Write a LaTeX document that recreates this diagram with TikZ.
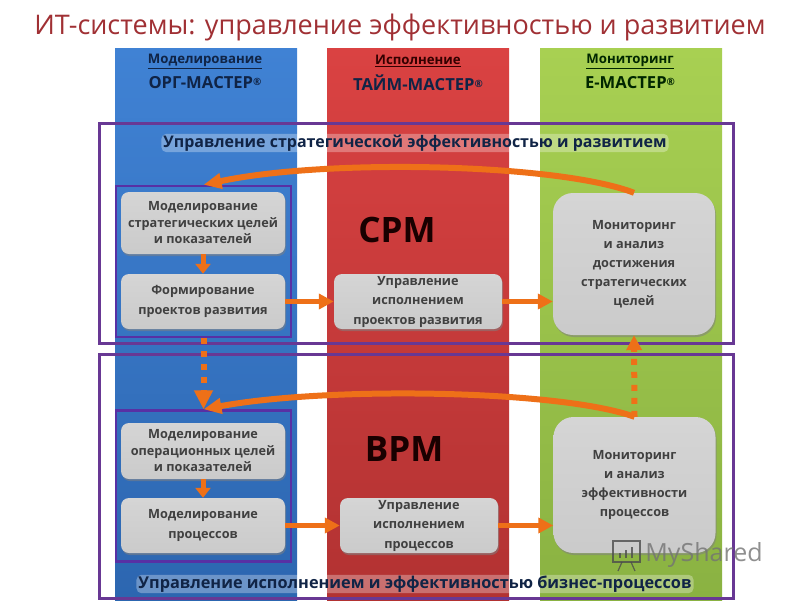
\documentclass[tikz,border=0pt]{standalone}
\usepackage{fontspec}
\setmainfont{Open Sans}
\usetikzlibrary{arrows.meta,shadows}
\pgfdeclareverticalshading{boxshade}{100bp}{color(0bp)=(black!30);color(6bp)=(black!22);color(70bp)=(black!17);color(90bp)=(black!14);color(97bp)=(white);color(100bp)=(white)}
\definecolor{bandviolet}{RGB}{104,56,148}
\definecolor{boxorange}{RGB}{238,112,24}
\definecolor{titlered}{RGB}{160,48,52}
\definecolor{navytext}{RGB}{16,36,70}
\definecolor{bluetop}{RGB}{64,130,212}
\definecolor{bluelow}{RGB}{44,102,176}
\definecolor{redtop}{RGB}{218,66,66}
\definecolor{redlow}{RGB}{178,50,50}
\definecolor{greentop}{RGB}{168,208,82}
\definecolor{greenlow}{RGB}{138,178,66}
\begin{document}
\begin{tikzpicture}[x=1pt,y=-1pt]
	\tikzstyle{column}=[rectangle,inner sep=0,minimum width=182pt,minimum height=552pt,anchor=north]
	\tikzstyle{band}=[rectangle,draw=bandviolet,line width=3pt,inner sep=0,minimum width=634pt]
	\tikzstyle{group}=[rectangle,draw=bandviolet!85!blue,line width=2.5pt,inner sep=0,minimum width=175pt,minimum height=151pt]
	\tikzstyle{task}=[rectangle,rounded corners=8pt,shading=boxshade,inner sep=0,align=center,
		font=\bfseries\fontsize{12.7}{16.5}\selectfont,text=black!75,drop shadow={opacity=.55,shadow xshift=1pt,shadow yshift=-2pt}]
	\tikzstyle{tasklong}=[task,font=\bfseries\fontsize{12.7}{19.5}\selectfont]
	\tikzstyle{monitor}=[task,rounded corners=20pt,minimum width=162pt,font=\bfseries\fontsize{12.7}{19}\selectfont]
	\tikzstyle{headline}=[font=\bfseries\fontsize{13.2}{16}\selectfont]
	\tikzstyle{product}=[font=\bfseries\fontsize{16.6}{20}\selectfont]
	\tikzstyle{caption}=[font=\bfseries\fontsize{16}{19}\selectfont,text=navytext,fill=white,fill opacity=.3,text opacity=1,
		rounded corners=5pt,inner xsep=2pt,inner ysep=1pt]
	\tikzstyle{title}=[font=\bfseries\fontsize{35}{38}\selectfont,text=black!90!red]
	\tikzstyle{edge}=[draw=boxorange,line width=5pt,-{Triangle[length=15pt,width=15pt]}]
	\tikzstyle{feedback}=[draw=boxorange,line width=6pt,-{Triangle[length=18pt,width=15pt]}]
	\tikzstyle{jump}=[edge,line width=6pt,dash pattern=on 6pt off 7pt]
	\useasboundingbox (0,0) rectangle (800,600);
	% columns
	\node [column,top color=bluetop,bottom color=bluelow] (blue) at (206,48) {};
	\node [column,top color=redtop,bottom color=redlow] (red) at (418,48) {};
	\node [column,top color=greentop,bottom color=greenlow] (green) at (631,48) {};
	\node [font=\fontsize{27}{30}\selectfont,text=titlered] (heading) at (400,27) {ИТ-системы: управление эффективностью и развитием};
	\node [headline,text=navytext] (head1) at (205,61) {\underline{Моделирование}};
	\node [product,text=navytext] (name1) at (205,83) {ОРГ-МАСТЕР\raisebox{3pt}{\normalsize ®}};
	\node [headline,text=red!20!black] (head2) at (418,61) {\underline{Исполнение}};
	\node [product,text=navytext] (name2) at (418,83) {ТАЙМ-МАСТЕР\raisebox{3pt}{\normalsize ®}};
	\node [headline,text=green!15!black] (head3) at (630,61) {\underline{Мониторинг}};
	\node [product,text=green!15!black] (name3) at (630,83) {Е-МАСТЕР\raisebox{3pt}{\normalsize ®}};
	% bands and groups
	\node [band,minimum height=220pt] (strategy) at (416,233) {};
	\node [band,minimum height=244pt] (process) at (416,476) {};
	\node [group] (group1) at (203.5,261.5) {};
	\node [group] (group2) at (203.5,486) {};
	\node [caption] (label1) at (415,143) {Управление стратегической эффективностью и развитием};
	\node [caption,font=\bfseries\fontsize{16.3}{19}\selectfont] (label2) at (415,584) {Управление исполнением и эффективностью бизнес-процессов};
	\node [title] (cpm) at (397,230) {CPM};
	\node [title] (bpm) at (404,449) {BPM};
	% tasks
	\node [task,minimum width=164pt,minimum height=62pt] (goals1) at (203,223) {Моделирование\\стратегических целей\\и показателей};
	\node [tasklong,minimum width=164pt,minimum height=55pt] (projects) at (203,301.5) {Формирование\\проектов развития};
	\node [tasklong,minimum width=168pt,minimum height=55pt] (exec1) at (418,301.5) {Управление\\исполнением\\проектов развития};
	\node [monitor,minimum height=142pt] (watch1) at (634,264) {Мониторинг\\и анализ\\достижения\\стратегических\\целей};
	\node [task,minimum width=164pt,minimum height=56pt] (goals2) at (203,451) {Моделирование\\операционных целей\\и показателей};
	\node [tasklong,minimum width=164pt,minimum height=55pt] (model) at (203,525.5) {Моделирование\\процессов};
	\node [tasklong,minimum width=158pt,minimum height=55pt] (exec2) at (419,525.5) {Управление\\исполнением\\процессов};
	\node [monitor,minimum height=136pt] (watch2) at (634.5,485) {Мониторинг\\и анализ\\эффективности\\процессов};
	% connectors
	\path[edge,-{Triangle[length=10pt,width=15pt]}] (goals1) -- (projects);
	\path[edge,-{Triangle[length=10pt,width=15pt]}] (goals2) -- (model);
	\path[edge] (projects) -- (exec1);
	\path[edge] (exec1.east) -- (exec1.east -| watch1.west);
	\path[edge] (model) -- (exec2);
	\path[edge] (exec2.east) -- (exec2.east -| watch2.west);
	\path[feedback] (watch1.north) .. controls (560,164) and (330,158) .. (group1.north);
	\path[feedback] (watch2.north) .. controls (560,390) and (330,386) .. (group2.north);
	\path[jump,-{Triangle[length=19pt,width=18pt]}] (group1.south) -- (group2.north);
	\path[jump] (watch2.north) -- (watch1.south);
	% watermark
	\node [font=\fontsize{25}{28}\selectfont,text=black!55,opacity=.8] (mark) at (704,555) {MyShared};
	\draw [black!70,line width=1.5pt,opacity=.8] (613,541) rectangle (640,562);
	\draw [black!70,line width=2.5pt,opacity=.8] (620,558) -- (620,553) (626,558) -- (626,550) (632,558) -- (632,547);
	\draw [black!70,line width=1.2pt,opacity=.8] (622,562) -- (618,571) (631,562) -- (635,571);
\end{tikzpicture}
\end{document}
